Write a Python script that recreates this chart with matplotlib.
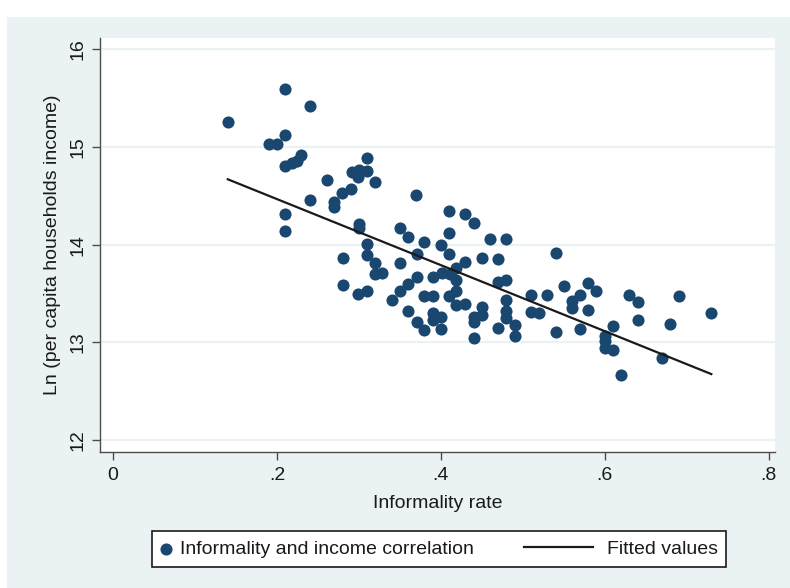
import matplotlib
matplotlib.use("Agg")
import matplotlib.pyplot as plt
import numpy as np
from matplotlib.legend_handler import HandlerLine2D

plt.rcParams['font.family'] = ['Liberation Sans', 'DejaVu Sans']

# informality rate vs log per capita household income
informality = [
    0.210, 0.240, 0.140, 0.210, 0.190, 0.200, 0.229, 0.224, 0.218, 0.210,
    0.310, 0.291, 0.300, 0.310, 0.299, 0.320, 0.261, 0.290, 0.279, 0.270,
    0.270, 0.240, 0.210, 0.210, 0.300, 0.300, 0.310, 0.310, 0.280, 0.320,
    0.320, 0.328, 0.280, 0.310, 0.299,
    0.370, 0.410, 0.430, 0.440, 0.350, 0.360, 0.410, 0.380, 0.400, 0.460,
    0.479, 0.410, 0.371, 0.450, 0.470, 0.430, 0.350, 0.371, 0.360, 0.391,
    0.401, 0.411, 0.419, 0.419, 0.470, 0.479, 0.350, 0.340, 0.380, 0.390,
    0.410, 0.419, 0.419, 0.430, 0.450, 0.479, 0.510, 0.530, 0.360, 0.390,
    0.400, 0.440, 0.450, 0.479, 0.479, 0.510, 0.520, 0.371, 0.390, 0.440,
    0.490, 0.380, 0.400, 0.470, 0.490, 0.440,
    0.541, 0.550, 0.580, 0.589, 0.570, 0.560, 0.560, 0.580, 0.630, 0.640,
    0.690, 0.640, 0.730, 0.680, 0.541, 0.570, 0.610, 0.600, 0.600, 0.600,
    0.610, 0.670, 0.620,
]
log_income = [
    15.59, 15.42, 15.26, 15.12, 15.03, 15.03, 14.92, 14.86, 14.84, 14.81,
    14.89, 14.745, 14.76, 14.75, 14.69, 14.64, 14.66, 14.575, 14.53, 14.44,
    14.39, 14.46, 14.31, 14.14, 14.21, 14.17, 14.01, 13.89, 13.86, 13.81,
    13.70, 13.71, 13.59, 13.53, 13.50,
    14.51, 14.35, 14.31, 14.22, 14.17, 14.08, 14.12, 14.03, 14.00, 14.06,
    14.06, 13.90, 13.90, 13.86, 13.85, 13.82, 13.81, 13.67, 13.60, 13.67,
    13.71, 13.70, 13.76, 13.64, 13.62, 13.64, 13.53, 13.43, 13.47, 13.47,
    13.47, 13.53, 13.38, 13.39, 13.36, 13.43, 13.49, 13.49, 13.32, 13.30,
    13.26, 13.26, 13.28, 13.32, 13.245, 13.31, 13.30, 13.21, 13.23, 13.21,
    13.18, 13.13, 13.14, 13.15, 13.06, 13.04,
    13.92, 13.58, 13.61, 13.53, 13.48, 13.42, 13.35, 13.33, 13.48, 13.41,
    13.47, 13.23, 13.30, 13.19, 13.11, 13.14, 13.17, 13.07, 13.01, 12.94,
    12.92, 12.84, 12.67,
]

# fitted line end points
fit_x = [0.14, 0.73]
fit_y = [14.67, 12.675]

x_ticks = [0, 0.2, 0.4, 0.6, 0.8]
x_tick_labels = ['0', '.2', '.4', '.6', '.8']
y_ticks = [12, 13, 14, 15, 16]

navy = '#1a476f'
panel = '#eaf2f3'
fsize = 14


class LongLine(HandlerLine2D):
    # line sample reaching left past the handle box, stopping a bit short
    # of the text on the right
    def create_artists(self, legend, orig_handle, xdescent, ydescent,
                       width, height, fontsize, trans):
        extra = 3.2 * fontsize
        shrink = 0.27 * fontsize
        return super().create_artists(legend, orig_handle, xdescent + extra,
                                      ydescent, width + extra - shrink,
                                      height, fontsize, trans)


fig = plt.figure(figsize=(7.9, 5.88), dpi=100)
fig.patch.set_facecolor('white')

# light panel behind everything
bg = fig.add_axes([7 / 790, 0, 1 - 7 / 790, 1 - 17 / 588], zorder=-10)
bg.set_facecolor(panel)
bg.set_xticks([])
bg.set_yticks([])
for s in bg.spines.values():
    s.set_visible(False)

ax = fig.add_axes([100 / 790, 136 / 588, 675 / 790, 414 / 588])
ax.set_facecolor('white')

ax.scatter(informality, log_income, s=76, color=navy, linewidths=0,
           zorder=3, label='Informality and income correlation')
line, = ax.plot(fit_x, fit_y, color='#1a1a1a', lw=1.6, zorder=4,
                label='Fitted values')

ax.set_xlim(-0.0159, 0.8077)
ax.set_ylim(11.877, 16.117)
ax.set_xticks(x_ticks)
ax.set_xticklabels(x_tick_labels)
ax.set_yticks(y_ticks)
ax.grid(axis='y', color=panel, lw=1.6, zorder=0)
ax.set_axisbelow(True)

for s in ['top', 'right']:
    ax.spines[s].set_visible(False)
for s in ['left', 'bottom']:
    ax.spines[s].set_color('#4d4d4d')
    ax.spines[s].set_linewidth(1.0)

ax.tick_params(axis='both', direction='out', length=6, width=1,
               color='#4d4d4d', labelsize=fsize, labelcolor='#1a1a1a', pad=5)
ax.tick_params(axis='y', labelrotation=90, pad=4)
plt.setp(ax.get_yticklabels(), va='center')

ax.set_xlabel('Informality rate', fontsize=fsize, color='#1a1a1a', labelpad=8)
ax.set_ylabel('Ln (per capita households income)', fontsize=fsize,
              color='#1a1a1a', labelpad=6)

leg = fig.legend(loc='center', bbox_to_anchor=(439 / 790, 1 - 549 / 588),
                 ncol=2, fontsize=fsize, frameon=True, fancybox=False,
                 framealpha=1, handlelength=0.6, handletextpad=0.43,
                 columnspacing=5.78, borderpad=0.45, borderaxespad=0,
                 scatterpoints=1, handler_map={line: LongLine()})
leg.get_frame().set_edgecolor('#1a1a1a')
leg.get_frame().set_linewidth(1.2)
leg.get_frame().set_facecolor('white')
for t in leg.get_texts():
    t.set_color('#1a1a1a')

fig.savefig('out.png', dpi=100, facecolor=fig.get_facecolor())
